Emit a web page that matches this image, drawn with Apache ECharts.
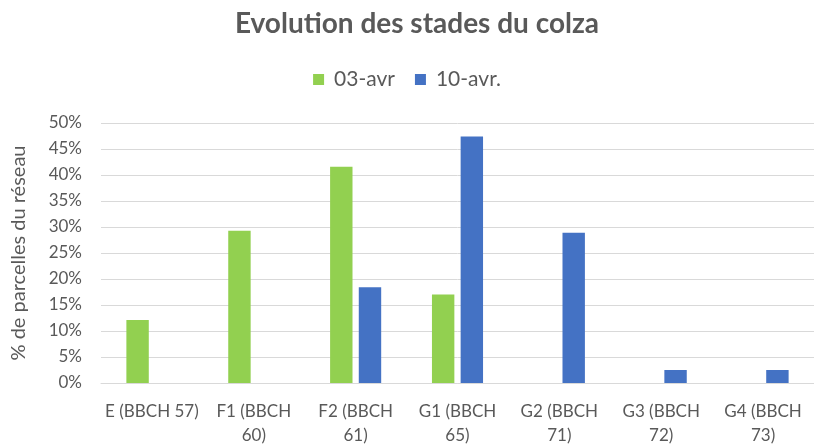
<!DOCTYPE html>
<html><head><meta charset="utf-8">
<script src="https://cdn.jsdelivr.net/npm/echarts@6/dist/echarts.min.js"></script>
<style>html,body{margin:0;padding:0;background:#fff}#c{width:814px;height:448px}</style>
</head><body><div id="c"></div>
<script>
const categories = ["E (BBCH 57)", "F1 (BBCH\n60)", "F2 (BBCH\n61)", "G1 (BBCH\n65)", "G2 (BBCH\n71)", "G3 (BBCH\n72)", "G4 (BBCH\n73)"];
const seriesNames = ["03-avr", "10-avr."];
const avr03 = [0.121, 0.293, 0.416, 0.170, 0, 0, 0];
const avr10 = [0, 0, 0.184, 0.474, 0.289, 0.025, 0.025];
const colors = ["#92d050", "#4472c4"];
const yTicks = {min: 0, max: 0.5, interval: 0.05};
const chart = echarts.init(document.getElementById('c'));
const font = 'Lato, "Open Sans", sans-serif';
chart.setOption({
  animation: false,
  textStyle: {fontFamily: font},
  title: {text: "Evolution des stades du colza", left: 412, textAlign: 'center', top: 5,
    textStyle: {fontFamily: font, fontSize: 28, fontWeight: 'bold', color: '#595959'}},
  legend: {top: 64, left: 'center', itemWidth: 11, itemHeight: 11, itemGap: 20, icon: 'rect',
    textStyle: {fontFamily: font, fontSize: 21, color: '#595959', padding: [0, 0, 0, 5]}, data: seriesNames},
  grid: {left: 101, width: 715, top: 123, height: 265, containLabel: false},
  xAxis: {type: 'category', data: categories,
    axisLine: {lineStyle: {color: '#d9d9d9', width: 1}}, axisTick: {show: false},
    axisLabel: {fontFamily: font, fontSize: 17, color: '#595959', margin: 17, lineHeight: 24, interval: 0}},
  yAxis: {type: 'value', min: yTicks.min, max: yTicks.max, interval: yTicks.interval,
    name: "% de parcelles du réseau", nameLocation: 'middle', nameRotate: 90, nameGap: 72,
    nameTextStyle: {fontFamily: font, fontSize: 20, color: '#595959'},
    axisLine: {show: false}, axisTick: {show: false},
    splitLine: {lineStyle: {color: '#d9d9d9', width: 1}},
    axisLabel: {fontFamily: font, fontSize: 17, color: '#595959', margin: 19,
      formatter: v => Math.round(v * 100) + '%'}},
  series: [
    {name: seriesNames[0], type: 'bar', data: avr03, barWidth: '22%', barGap: '28%', itemStyle: {color: colors[0]}},
    {name: seriesNames[1], type: 'bar', data: avr10, barWidth: '22%', barGap: '28%', itemStyle: {color: colors[1]}}
  ]
});
</script></body></html>
